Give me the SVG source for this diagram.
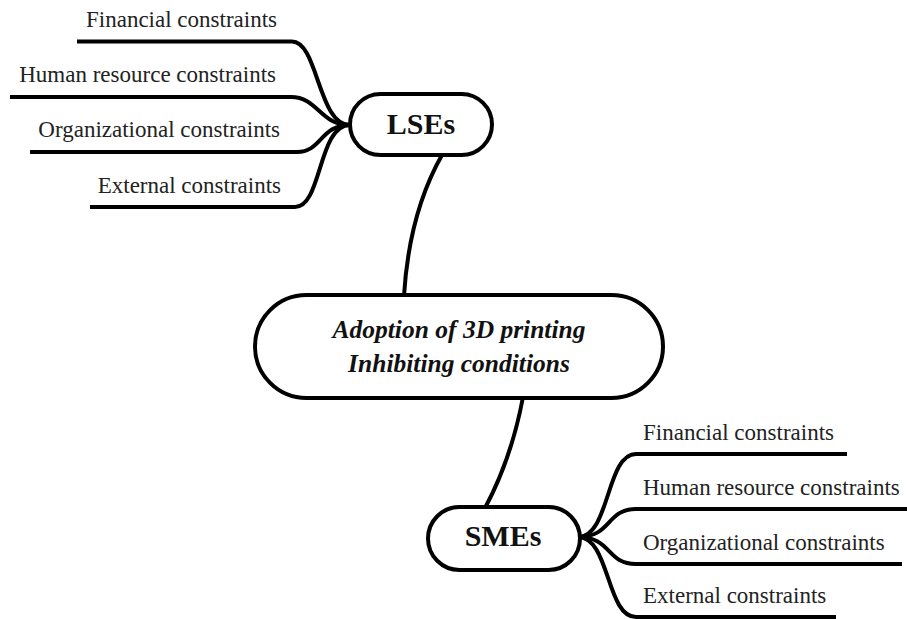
<svg xmlns="http://www.w3.org/2000/svg" width="907" height="619" viewBox="0 0 907 619">
  <style>
    .node { fill: #ffffff; stroke: #000000; stroke-width: 4; }
    .link { fill: none; stroke: #000000; stroke-width: 4; stroke-linecap: butt; }
    text { font-family: 'Liberation Serif', 'Times New Roman', Tinos, 'DejaVu Serif', serif; }
    .leaf { font-size: 23px; fill: #222222; }
    .hub { font-size: 30px; font-weight: bold; fill: #111111; text-anchor: middle; }
    .core { font-size: 25.5px; font-weight: bold; font-style: italic; fill: #111111; text-anchor: middle; }
  </style>
  <rect width="907" height="619" fill="#ffffff"/>

  <g id="connectors">
    <!-- LSEs branches -->
    <path class="link" d="M77,41.5 H292 C318,41.5 318,125 350,125"/>
    <path class="link" d="M10,97 H291 C318,97 320,125 350,125"/>
    <path class="link" d="M30,152 H297 C322,152 320,125 350,125"/>
    <path class="link" d="M90,207 H295 C322,207 318,125 350,125"/>
    <!-- trunk -->
    <path class="link" d="M442,155 C425,185 408,230 404,296"/>
    <path class="link" d="M523,397 C515,440 500,480 485,508"/>
    <!-- SMEs branches -->
    <path class="link" d="M578,537 C610,537 606,454 636,454 H847"/>
    <path class="link" d="M578,537 C612,537 606,509 636,509 H907"/>
    <path class="link" d="M578,537 C612,537 606,564 636,564 H902"/>
    <path class="link" d="M578,537 C610,537 606,617 636,617 H836"/>
  </g>

  <g id="lses">
    <rect class="node" x="350" y="94" width="142" height="61" rx="30.5"/>
    <text class="hub" x="421" y="134" font-family="Liberation Serif, serif">LSEs</text>
  </g>

  <g id="core">
    <rect class="node" x="255" y="295" width="408" height="103" rx="51.5"/>
    <text class="core" x="459" y="338">Adoption of 3D printing</text>
    <text class="core" x="459" y="372">Inhibiting conditions</text>
  </g>

  <g id="smes">
    <rect class="node" x="428" y="507" width="152" height="63" rx="31.5"/>
    <text class="hub" x="503" y="546">SMEs</text>
  </g>

  <g id="lses-leaves" text-anchor="end">
    <text class="leaf" x="277" y="27">Financial constraints</text>
    <text class="leaf" x="276" y="82">Human resource constraints</text>
    <text class="leaf" x="280" y="137">Organizational constraints</text>
    <text class="leaf" x="281" y="193">External constraints</text>
  </g>

  <g id="smes-leaves">
    <text class="leaf" x="643" y="440">Financial constraints</text>
    <text class="leaf" x="643" y="495">Human resource constraints</text>
    <text class="leaf" x="643" y="550">Organizational constraints</text>
    <text class="leaf" x="643" y="603">External constraints</text>
  </g>
</svg>
